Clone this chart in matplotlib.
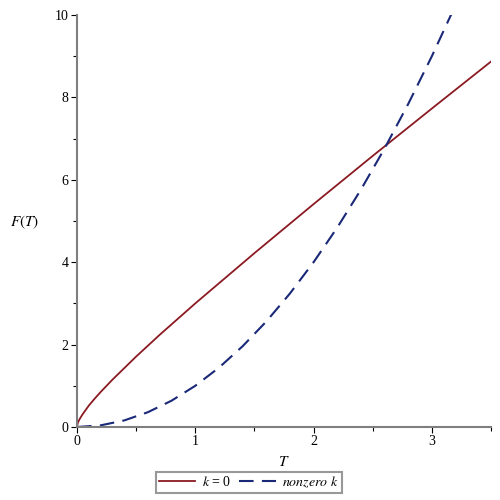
import numpy as np
import matplotlib
matplotlib.use("Agg")
import matplotlib.pyplot as plt
from matplotlib.ticker import MultipleLocator

# k = 0 curve
t_k0 = [0, 0.005, 0.01, 0.02, 0.03, 0.05, 0.075, 0.1, 0.15, 0.2, 0.3, 0.4, 0.5,
        0.7, 1.0, 1.5, 2.0, 2.5, 3.0, 3.5]
f_k0 = [0, 0.08, 0.12, 0.18, 0.23, 0.32, 0.42, 0.52, 0.69, 0.85, 1.15, 1.43, 1.71,
        2.24, 3.0, 4.22, 5.41, 6.58, 7.73, 8.87]

# nonzero k curve
t_nz = [0, 0.2, 0.4, 0.6, 0.8, 1.0, 1.2, 1.4, 1.6, 1.8, 2.0, 2.2, 2.4, 2.6,
        2.8, 3.0, 3.2]
f_nz = [0, 0.04, 0.16, 0.36, 0.64, 1.0, 1.44, 1.96, 2.56, 3.24, 4.0, 4.84, 5.76,
        6.76, 7.84, 9.0, 10.24]

red = "#8b1a22"
blue = "#1a2878"
axis_gray = "#7f7f7f"

plt.rcParams["mathtext.fontset"] = "stix"

fig = plt.figure(figsize=(5, 5), dpi=100)
ax = fig.add_axes([0.154, 0.146, 0.828, 0.824])

ax.plot(t_k0, f_k0, color=red, lw=1.3, label=r"$k$ = 0")
ax.plot(t_nz, f_nz, color=blue, lw=1.5, dashes=(7, 4), label=r"$nonzero\ k$")

ax.set_xlim(0, 3.5)
ax.set_ylim(0, 10)
for s in ["top", "right"]:
    ax.spines[s].set_visible(False)
for s in ["left", "bottom"]:
    ax.spines[s].set_color(axis_gray)
    ax.spines[s].set_linewidth(1.5)

ax.xaxis.set_major_locator(MultipleLocator(1))
ax.xaxis.set_minor_locator(MultipleLocator(0.5))
ax.yaxis.set_major_locator(MultipleLocator(2))
ax.yaxis.set_minor_locator(MultipleLocator(1))
ax.tick_params(which="both", direction="out", color="black", width=0.8,
               labelsize=10, pad=2)
ax.tick_params(which="major", length=4)
ax.tick_params(which="minor", length=3)
for lbl in ax.get_xticklabels() + ax.get_yticklabels():
    lbl.set_fontfamily("Liberation Serif")

ax.set_xlabel(r"$T$", fontsize=11, labelpad=4)
fig.text(0.05, 0.556, r"$F(T)$", fontsize=11, ha="center", va="center")

leg = ax.legend(loc="upper center", bbox_to_anchor=(0.415, -0.109), ncol=2,
                frameon=True, fancybox=False, fontsize=10, handlelength=2.6,
                columnspacing=0.6, handletextpad=0.5, borderpad=0.2,
                borderaxespad=0, prop={"family": "Liberation Serif", "size": 10})
leg.get_frame().set_edgecolor(axis_gray)
leg.get_frame().set_linewidth(1.5)

fig.savefig("out.png", dpi=100)
